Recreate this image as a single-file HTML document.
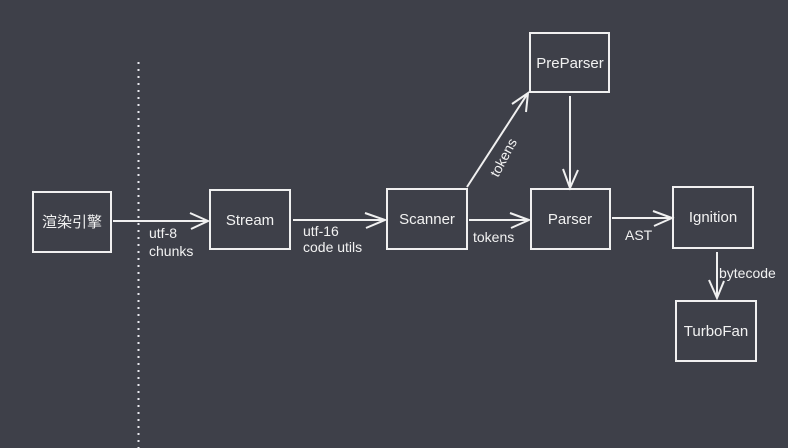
<!DOCTYPE html>
<html><head><style>
html,body{margin:0;padding:0;background:#3e4049;}
svg{display:block}
text{font-family:"Liberation Sans","Noto Sans CJK SC",sans-serif;fill:#f2f2f2;font-size:14px}
.b{font-size:15px}
</style></head><body>
<svg width="788" height="448" viewBox="0 0 788 448">
<rect width="788" height="448" fill="#3e4049"/>
<line x1="138.5" y1="62" x2="138.5" y2="448" stroke="#e8e8ee" stroke-width="2" stroke-dasharray="2,5"/>
<g fill="none" stroke="#f0f0f0" stroke-width="2">
<rect x="33" y="192" width="78" height="60"/>
<rect x="210" y="190" width="80" height="59"/>
<rect x="387" y="189" width="80" height="60"/>
<rect x="530" y="33" width="79" height="59"/>
<rect x="531" y="189" width="79" height="60"/>
<rect x="673" y="187" width="80" height="61"/>
<rect x="676" y="301" width="80" height="60"/>
<path d="M113 221 L208 221 M190 213 L208 221 L191 229"/>
<path d="M293 220 L385 220 M365 213 L385 220 L366 228"/>
<path d="M469 220 L529 220 M510 213 L529 220 L511 228"/>
<path d="M612 218 L672 218 M653 211 L672 218 L654 226"/>
<path d="M570 96 L570 188 M563 169 L570 188 L578 170"/>
<path d="M467 187 L528 93 M512 104 L528 93 L526 112"/>
<path d="M717 252 L717 298 M709 280 L717 298 L724 281"/>
</g>
<text class="b" x="72" y="227" text-anchor="middle">渲染引擎</text>
<text class="b" x="250" y="225" text-anchor="middle">Stream</text>
<text class="b" x="427" y="224" text-anchor="middle">Scanner</text>
<text class="b" x="570" y="68" text-anchor="middle">PreParser</text>
<text class="b" x="570" y="224" text-anchor="middle">Parser</text>
<text class="b" x="713" y="222" text-anchor="middle">Ignition</text>
<text class="b" x="716" y="336" text-anchor="middle">TurboFan</text>
<text x="149" y="238">utf-8</text>
<text x="149" y="256">chunks</text>
<text x="303" y="236">utf-16</text>
<text x="303" y="252">code utils</text>
<text x="473" y="242">tokens</text>
<text x="625" y="240">AST</text>
<text x="719" y="278">bytecode</text>
<text x="0" y="0" transform="translate(498,178) rotate(-62)">tokens</text>
</svg>
</body></html>
